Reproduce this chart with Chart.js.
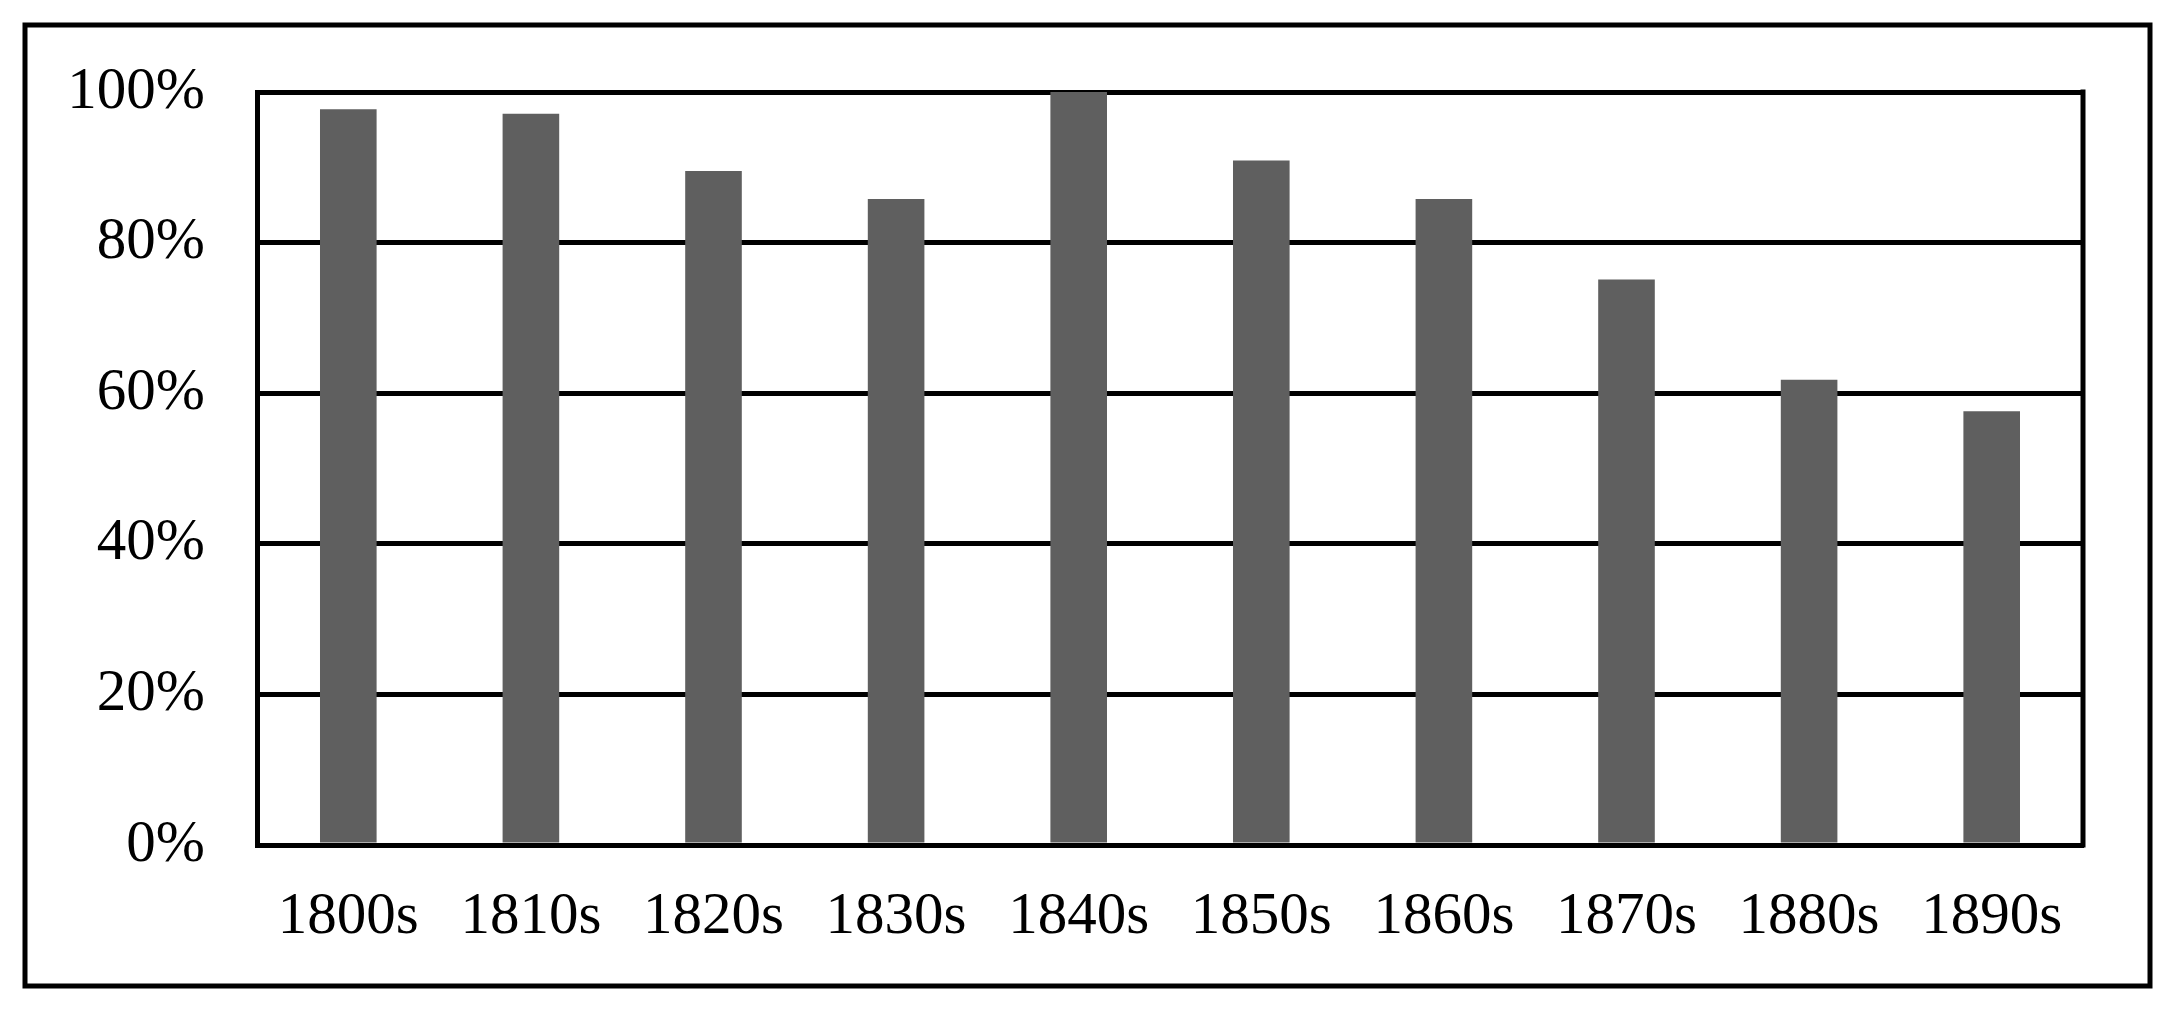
<!DOCTYPE html>
<html>
<head>
<meta charset="utf-8">
<script src="https://cdn.jsdelivr.net/npm/chart.js@4.4.0/dist/chart.umd.min.js"></script>
<style>
  html, body { margin: 0; padding: 0; background: #ffffff; }
  #wrap { position: relative; width: 2183px; height: 1024px; }
</style>
</head>
<body>
<div id="wrap"><canvas id="c" width="2183" height="1024"></canvas></div>
<script>
const categories = ['1800s', '1810s', '1820s', '1830s', '1840s', '1850s', '1860s', '1870s', '1880s', '1890s'];
const shares = [97.7, 97.1, 89.5, 85.8, 100, 90.9, 85.8, 75.1, 61.8, 57.6];
const yTicks = [0, 20, 40, 60, 80, 100];

const frame = {
  id: 'frame',
  afterDraw(chart) {
    const ctx = chart.ctx;
    const a = chart.chartArea;
    ctx.save();
    ctx.strokeStyle = '#000';
    ctx.lineWidth = 5;
    ctx.beginPath();
    ctx.moveTo(a.right, a.top - 2.5);
    ctx.lineTo(a.right, a.bottom + 2.5);
    ctx.stroke();
    ctx.strokeRect(25, 25, 2125, 961);
    ctx.restore();
  }
};

new Chart(document.getElementById('c'), {
  type: 'bar',
  data: {
    labels: categories,
    datasets: [{
      data: shares,
      backgroundColor: '#5f5f5f',
      borderWidth: 0,
      categoryPercentage: 1.0,
      barPercentage: 0.31
    }]
  },
  options: {
    responsive: false,
    devicePixelRatio: 1,
    animation: false,
    layout: { padding: { left: 0, right: 100, top: 92, bottom: 0 } },
    plugins: { legend: { display: false }, tooltip: { enabled: false } },
    scales: {
      x: {
        grid: { display: false, drawTicks: false },
        border: { display: true, color: '#000', width: 5 },
        ticks: {
          color: '#000',
          font: { family: 'Liberation Serif', size: 59 },
          padding: 37,
          maxRotation: 0,
          autoSkip: false
        },
        afterFit(s) { s.height = 179; }
      },
      y: {
        min: 0,
        max: 100,
        afterBuildTicks(s) { s.ticks = yTicks.map(v => ({ value: v })); },
        grid: { color: '#000', lineWidth: 5, drawTicks: false },
        border: { display: true, color: '#000', width: 5 },
        ticks: {
          color: '#000',
          font: { family: 'Liberation Serif', size: 59 },
          padding: 52,
          callback: v => v + '%'
        },
        afterFit(s) { s.width = 257; }
      }
    }
  },
  plugins: [frame]
});
</script>
</body>
</html>
